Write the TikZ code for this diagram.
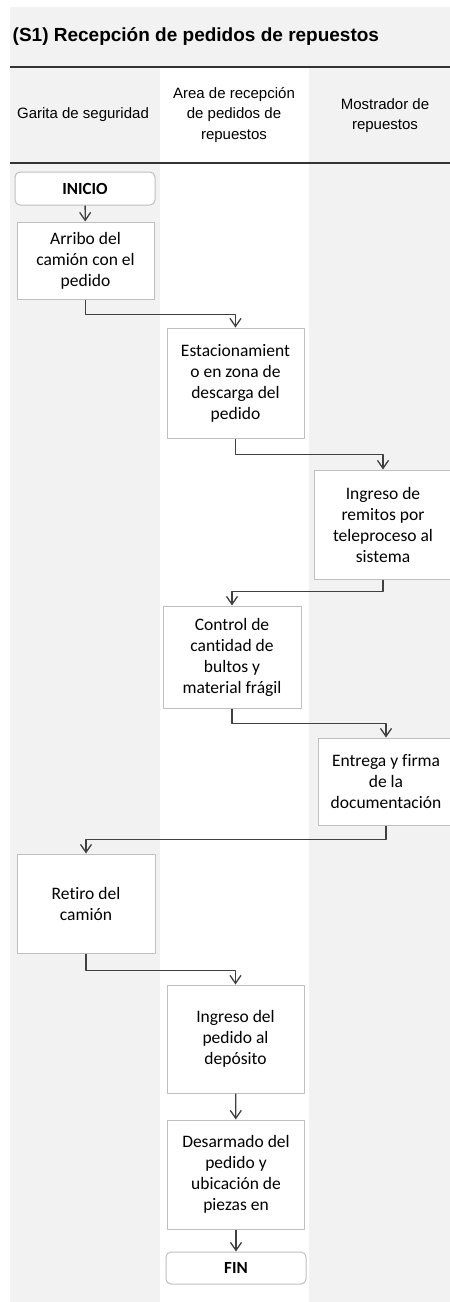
\documentclass[tikz,border=0pt]{standalone}
\usepackage{fontspec}
\setmainfont{Carlito}[Ligatures=NoCommon]
\newfontfamily\headfont{Liberation Sans}
\usetikzlibrary{arrows.meta}
\definecolor{lanegray}{HTML}{F2F2F2}
\definecolor{boxline}{HTML}{BFBFBF}
\definecolor{flowline}{HTML}{404040}

\begin{document}
\begin{tikzpicture}[x=1pt, y=-1pt, line join=round, >={Straight Barb[length=8pt, width=11pt]}]
	\tikzset{paso/.style={draw=boxline, fill=white, line width=1pt, minimum width=137pt, align=center, inner sep=2pt, font=\fontsize{17.5}{21}\selectfont},
		extremo/.style={paso, rounded corners=5pt, minimum width=140pt, minimum height=33pt, font=\fontsize{17}{21}\selectfont\bfseries},
		flujo/.style={->, draw=flowline, line width=1.3pt},
		carril/.style={font=\headfont\fontsize{15}{20.5}\selectfont, align=center}}
	\useasboundingbox (0,0) rectangle (450,1302);
	% fondo y carriles
	\fill[lanegray] (10,7) rectangle (450,1302);
	\fill[white] (160,67) rectangle (309,1302);
	\draw[black!80, line width=1.2pt] (10,67) -- (450,67) (10,163) -- (450,163);
	\node[anchor=west, inner sep=0pt, font=\headfont\fontsize{19}{23}\selectfont\bfseries] (titulo) at (12.5,36) {(S1) Recepción de pedidos de repuestos};
	\node[carril] (garita) at (83,115) {Garita de seguridad};
	\node[carril] (area) at (234,115) {Area de recepción\\de pedidos de\\repuestos};
	\node[carril] (mostrador) at (385,115.5) {Mostrador de\\repuestos};
	% pasos
	\node[extremo] (inicio) at (85,188.5) {INICIO};
	\node[paso, minimum height=77pt] (arribo) at (85.5,260.5) {Arribo del\\camión con el\\pedido};
	\node[paso, minimum height=110pt] (estac) at (235.5,383) {Estacionamient\\o en zona de\\descarga del\\pedido};
	\node[paso, minimum height=109pt] (remitos) at (383,524.5) {Ingreso de\\remitos por\\teleproceso al\\sistema};
	\node[paso, minimum height=102pt, minimum width=138pt] (control) at (232,657) {Control de\\cantidad de\\bultos y\\material frágil};
	\node[paso, minimum height=87pt, minimum width=136pt] (entrega) at (386,781.5) {Entrega y firma\\de la\\documentación};
	\node[paso, minimum height=99pt, minimum width=138pt] (retiro) at (86,903.5) {Retiro del\\camión};
	\node[paso, minimum height=108pt] (ingreso) at (235.5,1039) {Ingreso del\\pedido al\\depósito};
	\node[paso, minimum height=109pt] (desarme) at (236,1174.5) {Desarmado del\\pedido y\\ubicación de\\piezas en};
	\node[extremo, minimum height=32pt] (fin) at (236,1268) {FIN};
	% conectores
	\draw[flujo] (inicio) -- (arribo);
	\draw[flujo] (arribo.south) -- ++(0,15) -| (estac.north);
	\draw[flujo] (estac.south) -- ++(0,16) -| (remitos.north);
	\draw[flujo] (remitos.south) -- ++(0,12) -| (control.north);
	\draw[flujo] (control.south) -- ++(0,15) -| (entrega.north);
	\draw[flujo] (entrega.south) -- ++(0,14) -| (retiro.north);
	\draw[flujo] (retiro.south) -- ++(0,17) -| (ingreso.north);
	\draw[flujo] (ingreso) -- (desarme);
	\draw[flujo] (desarme) -- (fin);
\end{tikzpicture}
\end{document}
